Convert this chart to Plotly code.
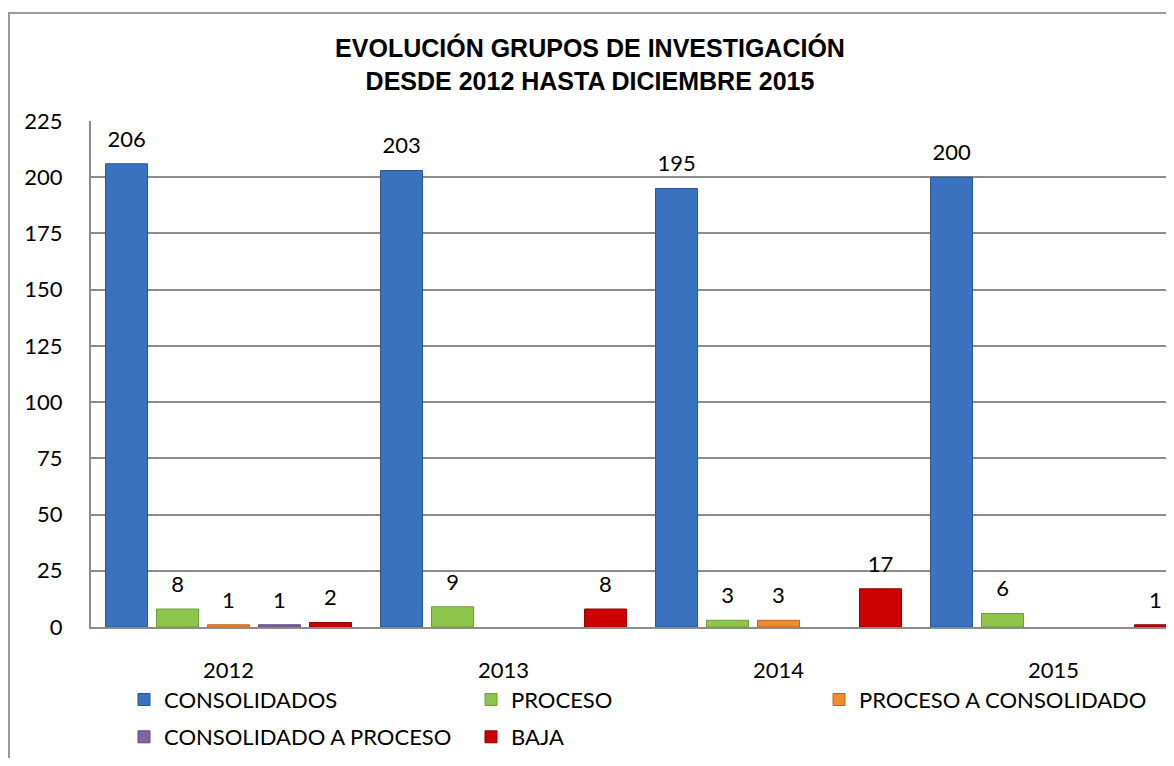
import plotly.graph_objects as go

years = ["2012", "2013", "2014", "2015"]
series_names = ["CONSOLIDADOS", "PROCESO", "PROCESO A CONSOLIDADO", "CONSOLIDADO A PROCESO", "BAJA"]
consolidados = [206, 203, 195, 200]
proceso = [8, 9, 3, 6]
proceso_a_consolidado = [1, 0, 3, 0]
consolidado_a_proceso = [1, 0, 0, 0]
baja = [2, 8, 17, 1]
y_ticks = [0, 25, 50, 75, 100, 125, 150, 175, 200, 225]

values = [consolidados, proceso, proceso_a_consolidado, consolidado_a_proceso, baja]
fills = ["#3A72BF", "#8DC64A", "#F08A2E", "#8064A2", "#CC0000"]
edges = ["#2A5794", "#6F9E36", "#C0661A", "#5E4A7E", "#8E0000"]

# page body has an 8px margin: figure placed at (8, 8)
OFF = 8
PAGE_W, PAGE_H = 1174, 766
W, H = PAGE_W - OFF, PAGE_H - 2 * OFF
PLOT_LEFT, PLOT_TOP, PLOT_BOTTOM = 91, 121, 629  # page pixels
L = PLOT_LEFT - OFF
T = PLOT_TOP - OFF
B = H - (PLOT_BOTTOM - OFF)
R = 0
pw, ph = W - L - R, H - T - B

def px_x(p):
    return (p - PLOT_LEFT) / pw

def px_y(p):
    return (PLOT_BOTTOM - p) / ph

FONT = "Lato"
fig = go.Figure()

legend_pos = [(124, 702), (471, 702), (819, 702), (124, 740), (471, 740)]

for i, (name, vals) in enumerate(zip(series_names, values)):
    lg = "legend" if i == 0 else f"legend{i+1}"
    fig.add_trace(go.Bar(
        x=years, y=[v if v > 0 else None for v in vals], name=name,
        marker=dict(color=fills[i], line=dict(color=edges[i], width=1)),
        legend=lg, offsetgroup=str(i),
    ))

for i, (name, vals) in enumerate(zip(series_names, values)):
    yv = [v if v > 0 else None for v in vals]
    tv = [str(v) if v > 0 else "" for v in vals]
    fig.add_trace(go.Scatter(
        x=years, y=yv, text=tv, mode="markers+text",
        textposition="top center",
        textfont=dict(family=FONT, size=22, color="#000000"),
        marker=dict(size=17, opacity=0, color="white"),
        showlegend=False, hoverinfo="skip", offsetgroup=str(i),
    ))

layout_legends = {}
for i, (lx, ly) in enumerate(legend_pos):
    key = "legend" if i == 0 else f"legend{i+1}"
    layout_legends[key] = dict(
        x=px_x(lx), y=px_y(ly), xanchor="left", yanchor="middle",
        orientation="v", bgcolor="rgba(0,0,0,0)",
        font=dict(family=FONT, size=22, color="#000000"),
    )

fig.update_layout(
    width=W, height=H, autosize=False,
    margin=dict(l=L, r=R, t=T, b=B, pad=0),
    paper_bgcolor="white", plot_bgcolor="white",
    barmode="group", bargap=0.073, bargroupgap=0.176,
    scattermode="group", scattergap=0.073,
    title=dict(
        text="<b>EVOLUCIÓN GRUPOS DE INVESTIGACIÓN<br>DESDE 2012 HASTA DICIEMBRE 2015</b>",
        font=dict(family="Liberation Sans", size=25, color="#000000"),
        x=(590 - OFF) / W, xanchor="center", xref="container",
        y=1 - 49 / H, yanchor="top", yref="container",
    ),
    xaxis=dict(
        type="category", range=[-0.5, -0.5 + pw / 275.0],
        showgrid=False, showline=True, linecolor="#8C8C8C", linewidth=2,
        ticks="", tickfont=dict(family=FONT, size=22, color="#000000"),
        ticklabelstandoff=23, zeroline=False,
    ),
    yaxis=dict(
        range=[0, 225], tickvals=y_ticks,
        showgrid=True, gridcolor="#8C8C8C", gridwidth=2,
        showline=True, linecolor="#8C8C8C", linewidth=2,
        ticks="", tickfont=dict(family=FONT, size=22, color="#000000"),
        ticklabelstandoff=22, zeroline=False,
    ),
    shapes=[dict(
        type="rect", xref="paper", yref="paper",
        x0=px_x(9), x1=1.2, y0=-1.0, y1=px_y(12.5),
        line=dict(color="#9A9A9A", width=2), fillcolor="rgba(0,0,0,0)",
        layer="above",
    )],
    **layout_legends,
)

fig.write_html("out.html")
